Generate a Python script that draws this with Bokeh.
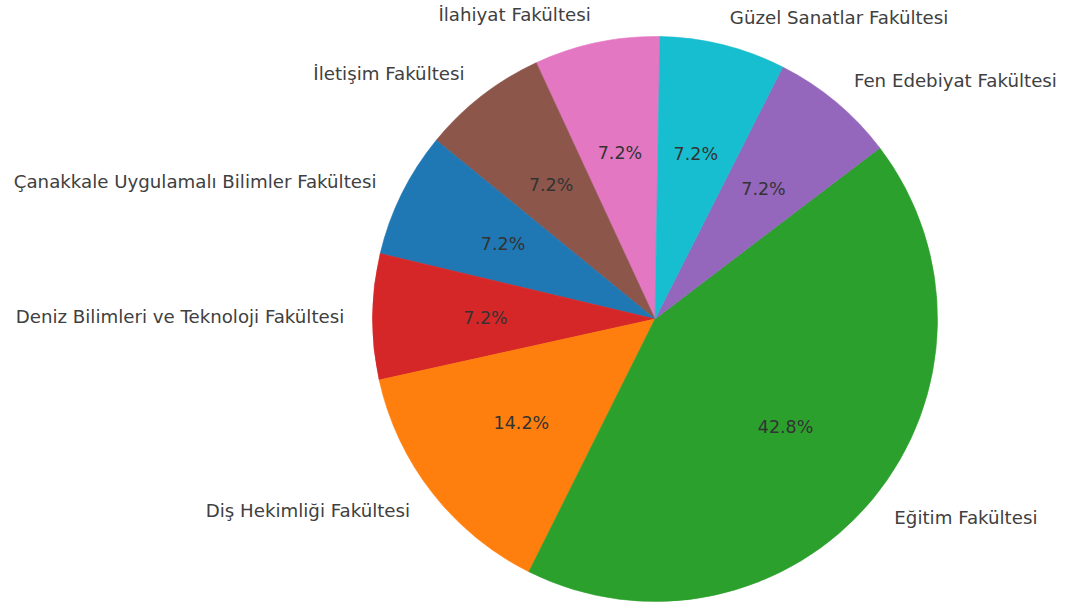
import numpy as np
from bokeh.plotting import figure
from bokeh.models import ColumnDataSource, Range1d
from bokeh.core.properties import value
from bokeh.embed import file_html
from bokeh.resources import INLINE

# Data (counter-clockwise from the top)
faculties = [
    "İlahiyat Fakültesi",
    "İletişim Fakültesi",
    "Çanakkale Uygulamalı Bilimler Fakültesi",
    "Deniz Bilimleri ve Teknoloji Fakültesi",
    "Diş Hekimliği Fakültesi",
    "Eğitim Fakültesi",
    "Fen Edebiyat Fakültesi",
    "Güzel Sanatlar Fakültesi",
]
shares = [7.2, 7.2, 7.2, 7.2, 14.2, 42.8, 7.2, 7.2]
colors = ["#e377c2", "#8c564b", "#1f77b4", "#d62728", "#ff7f0e", "#2ca02c", "#9467bd", "#17becf"]

W, H = 1065, 611
R = 282.5
start_deg = 89.0

vals = np.array(shares, dtype=float)
frac = vals / vals.sum()
cum = np.concatenate([[0.0], np.cumsum(frac)])
start = np.deg2rad(start_deg) + 2 * np.pi * cum[:-1]
end = np.deg2rad(start_deg) + 2 * np.pi * cum[1:]
mid = (start + end) / 2

lx = 1.1 * R * np.cos(mid)
ly = 1.1 * R * np.sin(mid)
align = ["left" if x > 0 else "right" for x in lx]
px = 0.6 * R * np.cos(mid)
py = 0.6 * R * np.sin(mid)
pct = [f"{v:.1f}%" for v in shares]

src = ColumnDataSource(dict(start=start, end=end, color=colors, lx=lx, ly=ly,
                            align=align, px=px, py=py, pct=pct, label=faculties))

p = figure(width=W, height=H, output_backend="svg", toolbar_location=None,
           x_range=Range1d(-654.5, 410.5), y_range=Range1d(-292.5, 318.5),
           x_axis_location=None, y_axis_location=None, min_border=0)
p.outline_line_color = None
p.grid.visible = False

p.wedge(x=0, y=0, radius=R, start_angle="start", end_angle="end",
        fill_color="color", line_color="color", line_width=0.6, source=src)

p.text(x="lx", y="ly", text="label", text_align="align", text_baseline="middle",
       text_font=value("DejaVu Sans"), text_font_size="18.2px", text_color="#404040",
       source=src)
p.text(x="px", y="py", text="pct", text_align="center", text_baseline="middle",
       text_font=value("DejaVu Sans"), text_font_size="17.5px", text_color="#333333",
       source=src)

open("out.html", "w").write(file_html(p, INLINE))
